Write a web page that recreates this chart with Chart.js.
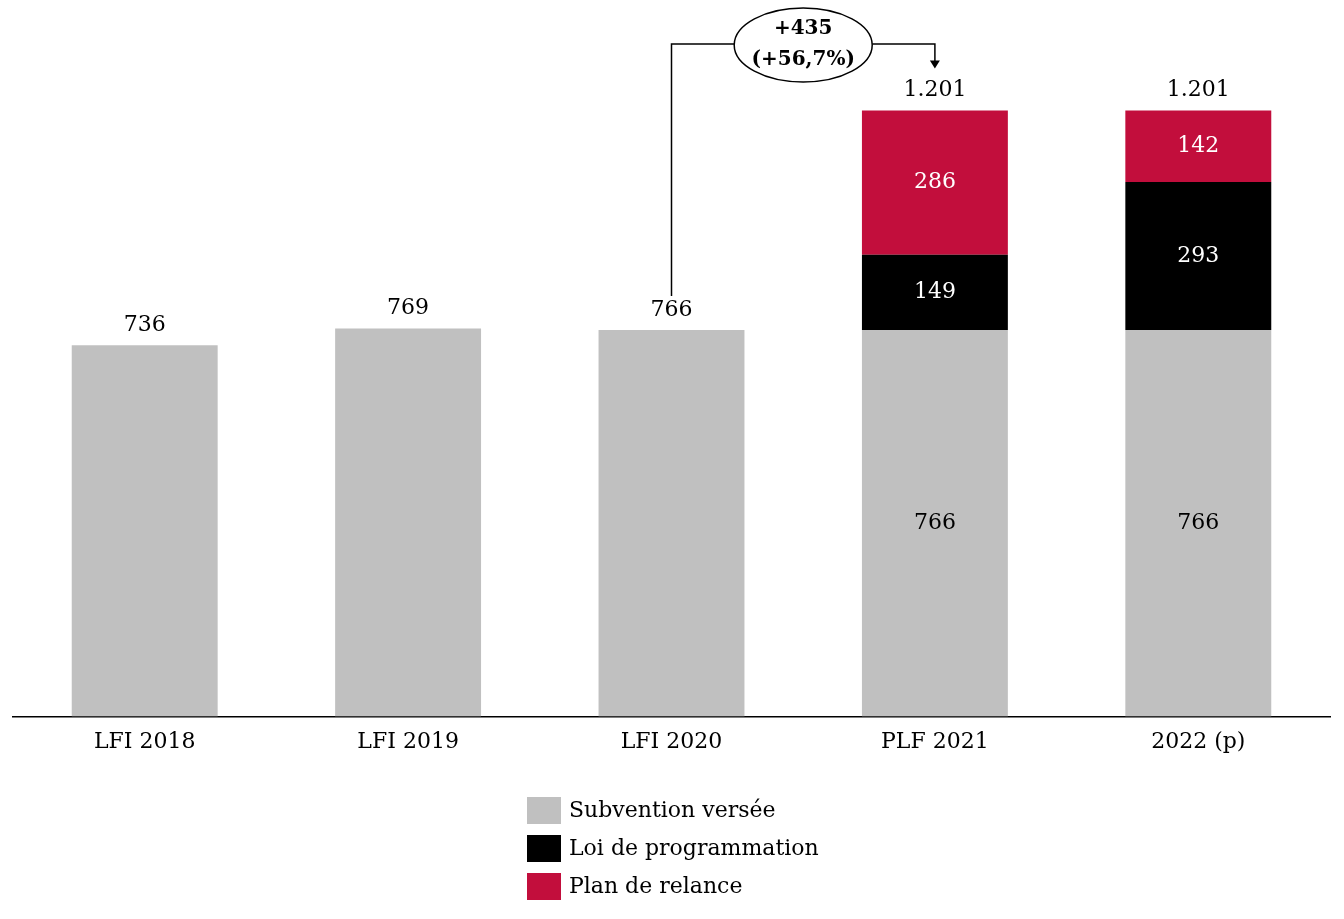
<!DOCTYPE html>
<html lang="fr">
  <head>
    <meta charset="UTF-8" />
    <title>Subvention</title>
    <script src="https://cdn.jsdelivr.net/npm/chart.js"></script>
    <style>
      html, body {
        margin: 0;
        padding: 0;
        background: #fff;
      }
      #wrap {
        width: 1344px;
        height: 919px;
      }
    </style>
  </head>
  <body>
    <div id="wrap"><canvas id="myChart" width="1344" height="919"></canvas></div>
    <script>
      var categories = ["LFI 2018", "LFI 2019", "LFI 2020", "PLF 2021", "2022 (p)"];
      var subvention = [736, 769, 766, 766, 766];
      var loiProg = [0, 0, 0, 149, 293];
      var relance = [0, 0, 0, 286, 142];
      var totalLabels = ["736", "769", "766", "1.201", "1.201"];
      var seriesNames = ["Subvention versée", "Loi de programmation", "Plan de relance"];
      var colors = ["#c0c0c0", "#000000", "#c20e3c"];

      var FONT = "'DejaVu Serif', serif";
      var FSIZE = 22;

      // labels inside and above bars
      var labelPlugin = {
        id: "labels",
        afterDatasetsDraw: function(chart) {
          var ctx = chart.ctx;
          var y = chart.scales.y;
          ctx.save();
          ctx.font = FSIZE + "px " + FONT;
          ctx.textAlign = "center";
          ctx.textBaseline = "middle";
          for (var i = 0; i < categories.length; i++) {
            var stacked = loiProg[i] > 0 || relance[i] > 0;
            var cx = chart.getDatasetMeta(0).data[i].x;
            if (stacked) {
              ctx.fillStyle = "#000";
              ctx.fillText(subvention[i], cx, (y.getPixelForValue(0) + y.getPixelForValue(subvention[i])) / 2);
              ctx.fillStyle = "#fff";
              var b = subvention[i];
              ctx.fillText(loiProg[i], cx, (y.getPixelForValue(b) + y.getPixelForValue(b + loiProg[i])) / 2);
              b += loiProg[i];
              ctx.fillText(relance[i], cx, (y.getPixelForValue(b) + y.getPixelForValue(b + relance[i])) / 2);
            }
            var tot = subvention[i] + loiProg[i] + relance[i];
            ctx.fillStyle = "#000";
            ctx.fillText(totalLabels[i], cx, y.getPixelForValue(tot) - 20);
          }
          ctx.restore();
        }
      };

      // bracket with ellipse between LFI 2020 and PLF 2021
      var bracketPlugin = {
        id: "bracket",
        afterDraw: function(chart) {
          var ctx = chart.ctx;
          var y = chart.scales.y;
          var x1 = chart.getDatasetMeta(0).data[2].x;
          var x2 = chart.getDatasetMeta(0).data[3].x;
          var yStart = y.getPixelForValue(subvention[2]) - 34;
          var yEnd = y.getPixelForValue(subvention[3] + loiProg[3] + relance[3]) - 42;
          var top = 44;
          var cx = (x1 + x2) / 2;
          var rx = 69, ry = 37;
          ctx.save();
          ctx.strokeStyle = "#000";
          ctx.lineWidth = 1.5;
          ctx.beginPath();
          ctx.moveTo(x1, yStart);
          ctx.lineTo(x1, top);
          ctx.lineTo(cx - rx, top);
          ctx.moveTo(cx + rx, top);
          ctx.lineTo(x2, top);
          ctx.lineTo(x2, yEnd - 7);
          ctx.stroke();
          ctx.fillStyle = "#000";
          ctx.beginPath();
          ctx.moveTo(x2 - 5, yEnd - 8);
          ctx.lineTo(x2 + 5, yEnd - 8);
          ctx.lineTo(x2, yEnd);
          ctx.closePath();
          ctx.fill();
          ctx.beginPath();
          ctx.ellipse(cx, top + 1, rx, ry, 0, 0, Math.PI * 2);
          ctx.fillStyle = "#fff";
          ctx.fill();
          ctx.stroke();
          ctx.fillStyle = "#000";
          ctx.font = "bold 20px " + FONT;
          ctx.textAlign = "center";
          ctx.textBaseline = "middle";
          ctx.fillText("+435", cx, 29);
          ctx.fillText("(+56,7%)", cx, 60);
          ctx.restore();
        }
      };

      // vertical legend below the chart
      var legendPlugin = {
        id: "vlegend",
        afterDraw: function(chart) {
          var ctx = chart.ctx;
          ctx.save();
          ctx.font = FSIZE + "px " + FONT;
          ctx.textBaseline = "middle";
          ctx.textAlign = "left";
          for (var i = 0; i < seriesNames.length; i++) {
            var ty = 797 + i * 38;
            ctx.fillStyle = colors[i];
            ctx.fillRect(527, ty, 34, 27);
            ctx.fillStyle = "#000";
            ctx.fillText(seriesNames[i], 569, ty + 14);
          }
          ctx.restore();
        }
      };

      var ctx = document.getElementById("myChart").getContext("2d");
      new Chart(ctx, {
        type: "bar",
        data: {
          labels: categories,
          datasets: [
            { label: seriesNames[0], data: subvention, backgroundColor: colors[0] },
            { label: seriesNames[1], data: loiProg, backgroundColor: colors[1] },
            { label: seriesNames[2], data: relance, backgroundColor: colors[2] }
          ]
        },
        options: {
          responsive: false,
          animation: false,
          devicePixelRatio: 1,
          layout: { padding: { left: 13, right: 14, top: 10, bottom: 160 } },
          datasets: {
            bar: { barPercentage: 0.554, categoryPercentage: 1, borderWidth: 0 }
          },
          plugins: {
            legend: { display: false },
            tooltip: { enabled: false }
          },
          scales: {
            x: {
              stacked: true,
              grid: { display: false },
              border: { display: true, color: "#000", width: 1.5 },
              ticks: { color: "#000", font: { family: FONT, size: FSIZE }, padding: 4 }
            },
            y: {
              stacked: true,
              display: false,
              min: 0,
              max: 1400
            }
          }
        },
        plugins: [labelPlugin, bracketPlugin, legendPlugin]
      });
    </script>
  </body>
</html>
